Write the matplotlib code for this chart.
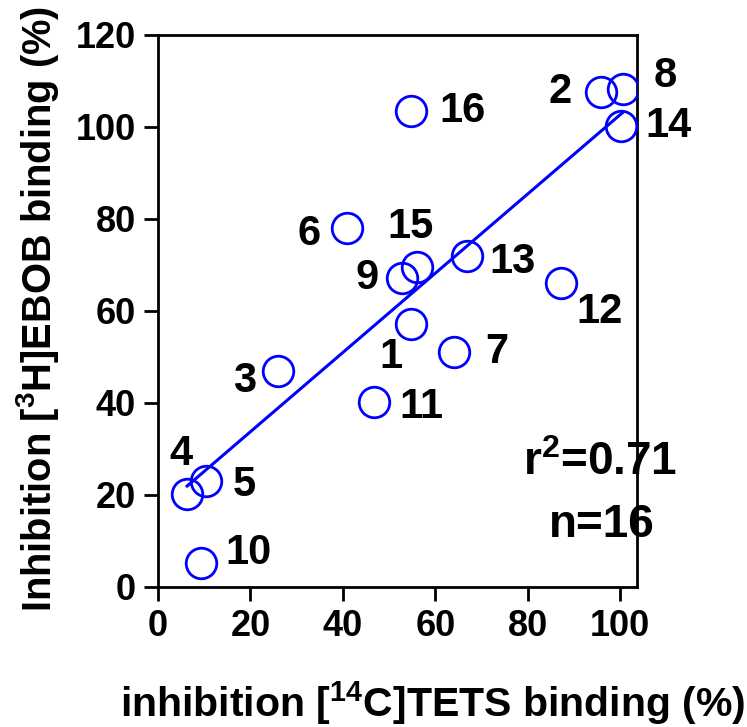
import matplotlib
matplotlib.use("Agg")
import matplotlib.pyplot as plt
import numpy as np

# inhibition data (percent)
compound = ['1', '2', '3', '4', '5', '6', '7', '8', '9', '10', '11', '12', '13', '14', '15', '16']
tets = [54.8, 95.8, 26.0, 6.3, 10.4, 40.8, 64.0, 100.6, 52.9, 9.4, 46.8, 87.3, 66.9, 100.3, 56.0, 54.8]
ebob = [57.1, 107.5, 47.0, 20.2, 23.0, 78.1, 51.0, 108.3, 67.2, 5.3, 40.3, 66.0, 72.0, 100.1, 69.6, 103.5]

x_ticks = [0, 20, 40, 60, 80, 100]
y_ticks = [0, 20, 40, 60, 80, 100, 120]

# label offsets (pixels) for each compound number
label_offsets = {
    '1': (-20, -33), '2': (-41, 0), '3': (-34, -10), '4': (-6, 40),
    '5': (38, -4), '6': (-37, -6), '7': (43, 0), '8': (42, 13),
    '9': (-35, 0), '10': (47, 10), '11': (47, -5), '12': (38, -29),
    '13': (45, -6), '14': (47, 0), '15': (-6, 40), '16': (51, 0),
}

plt.rcParams.update({
    'font.family': ['Liberation Sans', 'DejaVu Sans'],
    'font.weight': 'bold',
    'mathtext.fontset': 'custom',
    'mathtext.bf': 'Liberation Sans:bold',
    'mathtext.rm': 'Liberation Sans:bold',
    'mathtext.default': 'bf',
})

fig = plt.figure(figsize=(7.47, 7.27), dpi=100)
ax = fig.add_axes([0.2115, 0.1926, 0.6415, 0.7594])

blue = '#0000ff'
ax.plot(tets, ebob, 'o', markersize=22, markerfacecolor='none',
        markeredgecolor=blue, markeredgewidth=2.0, zorder=3)

# linear regression
slope, intercept = np.polyfit(tets, ebob, 1)
xs = np.array([min(tets), max(tets)])
ax.plot(xs, slope * xs + intercept, color=blue, lw=2.2, zorder=2)

for name, x, y in zip(compound, tets, ebob):
    dx, dy = label_offsets[name]
    ax.annotate(name, (x, y), xytext=(dx * 0.72, dy * 0.72), textcoords='offset points',
                ha='center', va='center', fontsize=30, fontweight='bold')

ax.text(0.923, 0.225, r'r$^2$=0.71', transform=ax.transAxes, ha='center', va='center',
        fontsize=33, fontweight='bold')
ax.text(0.925, 0.112, 'n=16', transform=ax.transAxes, ha='center', va='center',
        fontsize=33, fontweight='bold')

ax.set_xlim(0, 103.7)
ax.set_ylim(0, 120)
ax.set_xticks(x_ticks)
ax.set_yticks(y_ticks)
ax.tick_params(direction='out', length=10, width=2, labelsize=26, pad=6)
for s in ax.spines.values():
    s.set_linewidth(2)

ax.set_xlabel(r'inhibition [$^{14}$C]TETS binding (%)', fontsize=29.5, fontweight='bold', va='baseline')
ax.xaxis.set_label_coords(0.574, -0.2355)
ax.set_ylabel(r'Inhibition [$^{3}$H]EBOB binding (%)', fontsize=28.7, fontweight='bold', va='baseline')
ax.yaxis.set_label_coords(-0.223, 0.504)

fig.savefig('out.png', dpi=100)
plt.close('all')
